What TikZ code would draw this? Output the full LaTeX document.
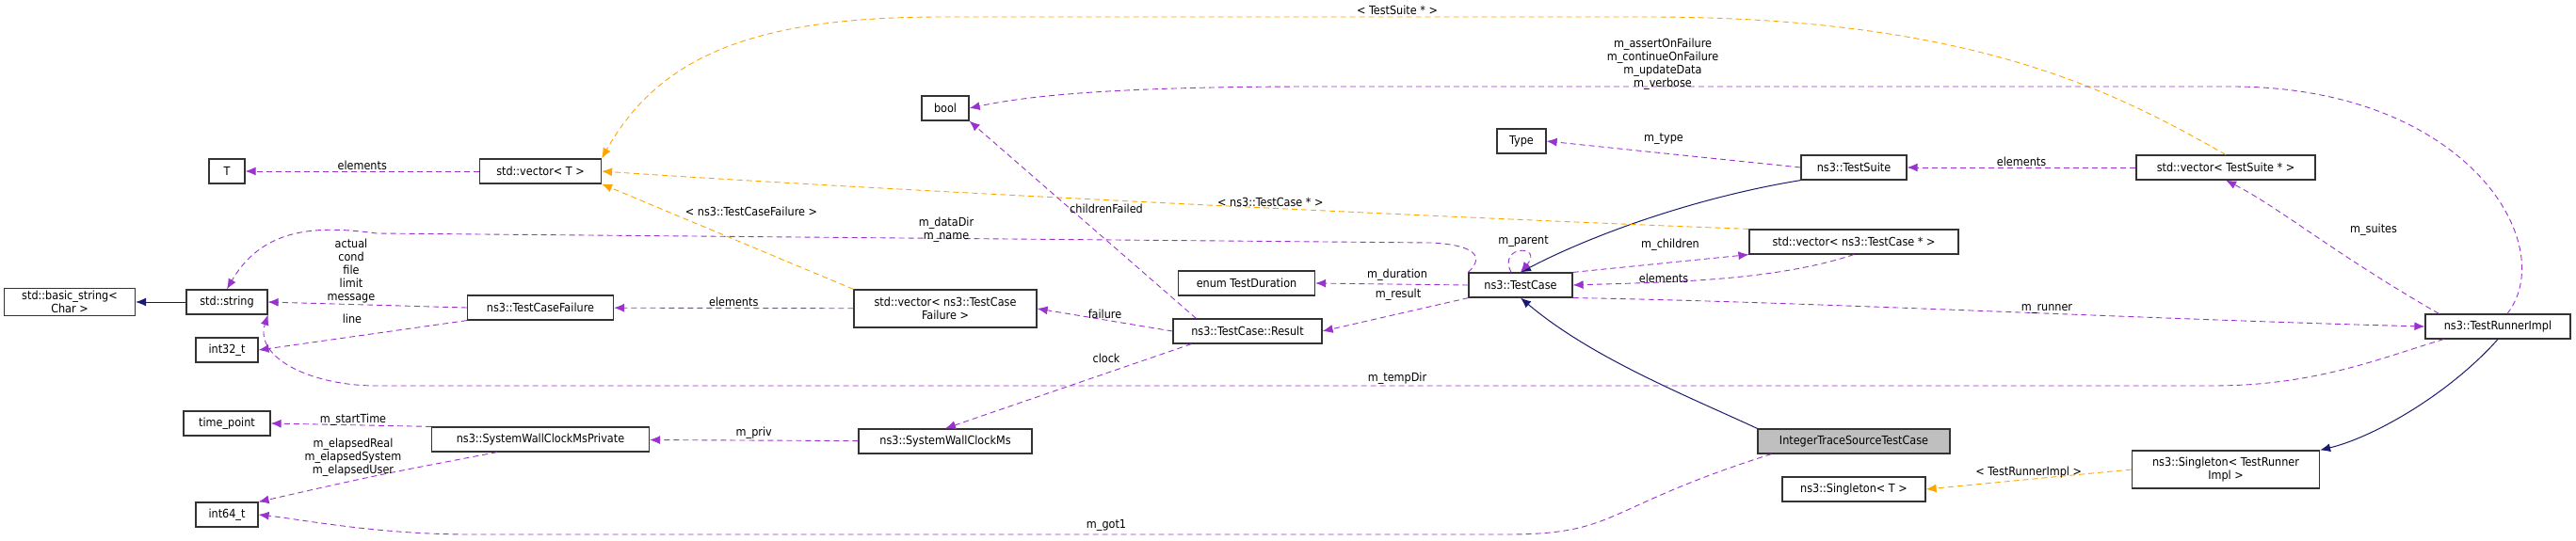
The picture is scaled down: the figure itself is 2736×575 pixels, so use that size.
\documentclass[tikz,border=0pt]{standalone}
\usepackage{fontspec}
\setmainfont{DejaVu Sans Condensed}
\usetikzlibrary{arrows.meta}
\definecolor{mem}{HTML}{9A32CD}
\definecolor{tpl}{HTML}{FFA500}
\definecolor{inh}{HTML}{191970}
\tikzset{
  cls/.style={draw=black!80,line width=1.2pt,fill=white,inner sep=3pt,font=\fontsize{12.5}{14}\selectfont,align=center,minimum height=26pt},
  lbl/.style={font=\fontsize{12.5}{14}\selectfont,align=center,inner sep=1pt,text=black},
  usage/.style={mem,dashed,dash pattern=on 6pt off 4pt,line width=0.9pt,-{Latex[length=11pt,width=9pt]}},
  templ/.style={tpl,dashed,dash pattern=on 6pt off 4pt,line width=0.9pt,-{Latex[length=11pt,width=9pt]}},
  derive/.style={inh,line width=1pt,-{Latex[length=11pt,width=9pt]}}
}
\begin{document}
\begin{tikzpicture}[x=1pt,y=-1pt]
	\useasboundingbox (0,0) rectangle (2736,575);
	% classes
	\node[cls,minimum width=139pt] (bstr) at (74,321) {std::basic\_string\textless\\Char \textgreater};
	\node[cls,minimum width=86pt] (str) at (241,321) {std::string};
	\node[cls,minimum width=38pt] (T) at (241,182) {T};
	\node[cls,minimum width=66pt] (i32) at (241,372) {int32\_t};
	\node[cls,minimum width=92pt] (tp) at (241,450) {time\_point};
	\node[cls,minimum width=66pt] (i64) at (241,547) {int64\_t};
	\node[cls,minimum width=129pt] (vecT) at (574,182) {std::vector\textless{} T \textgreater};
	\node[cls,minimum width=155pt] (tcf) at (574,327) {ns3::TestCaseFailure};
	\node[cls,minimum width=231pt] (swpriv) at (574,467) {ns3::SystemWallClockMsPrivate};
	\node[cls,minimum width=50pt] (bool) at (1004,115) {bool};
	\node[cls,minimum width=194pt,minimum height=40pt] (vectcf) at (1004,328) {std::vector\textless{} ns3::TestCase\\Failure \textgreater};
	\node[cls,minimum width=184pt] (swms) at (1004,469) {ns3::SystemWallClockMs};
	\node[cls,minimum width=145pt] (dur) at (1324,301) {enum TestDuration};
	\node[cls,minimum width=158pt] (res) at (1325,352) {ns3::TestCase::Result};
	\node[cls,minimum width=52pt] (type) at (1616,150) {Type};
	\node[cls,minimum width=110pt] (tc) at (1615,303) {ns3::TestCase};
	\node[cls,minimum width=112pt] (suite) at (1969,178) {ns3::TestSuite};
	\node[cls,minimum width=222pt] (vectc) at (1969,257) {std::vector\textless{} ns3::TestCase * \textgreater};
	\node[cls,minimum width=204pt,fill=black!25] (itc) at (1969,469) {IntegerTraceSourceTestCase};
	\node[cls,minimum width=152pt] (sgT) at (1969,520) {ns3::Singleton\textless{} T \textgreater};
	\node[cls,minimum width=190pt] (vecs) at (2364,178) {std::vector\textless{} TestSuite * \textgreater};
	\node[cls,minimum width=199pt,minimum height=40pt] (sgR) at (2364,499) {ns3::Singleton\textless{} TestRunner\\Impl \textgreater};
	\node[cls,minimum width=154pt] (runner) at (2653,347) {ns3::TestRunnerImpl};
	% inheritance
	\draw[derive] (str) -- (bstr);
	\draw[derive] (suite.south west) .. controls (1800,210) and (1690,250) .. (tc.north);
	\draw[derive] (itc.north west) .. controls (1790,420) and (1690,380) .. (tc.south);
	\draw[derive] (runner.south) .. controls (2600,420) and (2520,465) .. (sgR.north east);
	% templates
	\draw[templ] (vectcf.north west) -- (vecT.south east);
	\draw[templ] (vectc.north west) .. controls (1500,230) and (900,200) .. (vecT.east) node[lbl,pos=0.4,above] {\textless{} ns3::TestCase * \textgreater};
	\draw[templ] (vecs.north) .. controls (2250,100) and (2100,18) .. (1750,18) -- (1000,18) .. controls (800,18) and (700,60) .. (vecT.north east);
	\draw[templ] (sgR.west) -- (sgT.east) node[lbl,midway,above] {\textless{} TestRunnerImpl \textgreater};
	% members
	\draw[usage] (vecT) -- (T) node[lbl,midway,above] {elements};
	\draw[usage] (vectcf) -- (tcf) node[lbl,midway,above] {elements};
	\draw[usage] (tcf.west) -- (str.east);
	\draw[usage] (tcf.south west) -- (i32.east);
	\draw[usage] (res.west) -- (vectcf.east) node[lbl,midway,above] {failure};
	\draw[usage] (res.north west) ++(25,0) -- (bool.south east);
	\draw[usage] (res.south west) ++(20,0) -- (swms.north);
	\draw[usage] (swms) -- (swpriv) node[lbl,midway,above] {m\_priv};
	\draw[usage] (swpriv.north west) -- (tp.east);
	\draw[usage] (swpriv.south west) ++(70,0) .. controls (400,505) .. (i64.north east);
	\draw[usage] (tc.west) -- (dur.east);
	\draw[usage] (tc.south west) -- (res.east);
	\draw[usage] (tc.north east) -- (vectc.south west);
	\draw[usage] (vectc.south) .. controls (1880,300) and (1760,300) .. (tc.east);
	\draw[usage] (tc.north) ++(-10,0) .. controls (1590,260) and (1640,260) .. (tc.north);
	\draw[usage] (suite.west) -- (type.east);
	\draw[usage] (vecs) -- (suite) node[lbl,midway,above] {elements};
	\draw[usage] (runner.north west) ++(15,0) .. controls (2480,270) and (2420,220) .. (vecs.south);
	\draw[usage] (tc.south east) .. controls (1900,320) and (2300,340) .. (runner.west);
	\draw[usage] (tc.north west) .. controls (1580,270) and (1560,260) .. (1520,258) -- (400,248) .. controls (340,240) and (280,240) .. (str.north);
	\draw[usage] (runner.south west) ++(20,0) .. controls (2530,380) and (2460,410) .. (2350,410) -- (400,410) .. controls (330,410) and (270,380) .. (str.south east);
	\draw[usage] (runner.north) ++(10,0) .. controls (2720,260) and (2620,92) .. (2370,92) -- (1400,92) .. controls (1200,92) and (1100,100) .. (bool.east);
	\draw[usage] (itc.south west) ++(15,0) .. controls (1700,540) and (1720,568) .. (1600,568) -- (500,568) .. controls (400,568) and (320,552) .. (i64.east);
	% member labels
	\node[lbl] (lelem) at (1767,296) {elements};
	\node[lbl] (lchild) at (1774,260) {m\_children};
	\node[lbl] (lpar) at (1618,257) {m\_parent};
	\node[lbl] (ldur) at (1484,292) {m\_duration};
	\node[lbl] (lres) at (1485,313) {m\_result};
	\node[lbl] (ltype) at (1767,148) {m\_type};
	\node[lbl] (lchf) at (1175,222) {childrenFailed};
	\node[lbl] (lclock) at (1175,381) {clock};
	\node[lbl] (lname) at (1005,244) {m\_dataDir\\m\_name};
	\node[lbl] (ltmp) at (1484,402) {m\_tempDir};
	\node[lbl] (lgot) at (1175,558) {m\_got1};
	\node[lbl] (lflags) at (1766,68) {m\_assertOnFailure\\m\_continueOnFailure\\m\_updateData\\m\_verbose};
	\node[lbl] (lsuites) at (2521,244) {m\_suites};
	\node[lbl] (lrun) at (2174,328) {m\_runner};
	\node[lbl] (ltcf) at (798,225) {\textless{} ns3::TestCaseFailure \textgreater};
	\node[lbl] (lsuite) at (1484,11) {\textless{} TestSuite * \textgreater};
	\node[lbl] (lact) at (373,288) {actual\\cond\\file\\limit\\message};
	\node[lbl] (lline) at (374,339) {line};
	\node[lbl] (lstart) at (375,446) {m\_startTime};
	\node[lbl] (lelap) at (375,486) {m\_elapsedReal\\m\_elapsedSystem\\m\_elapsedUser};
\end{tikzpicture}
\end{document}
